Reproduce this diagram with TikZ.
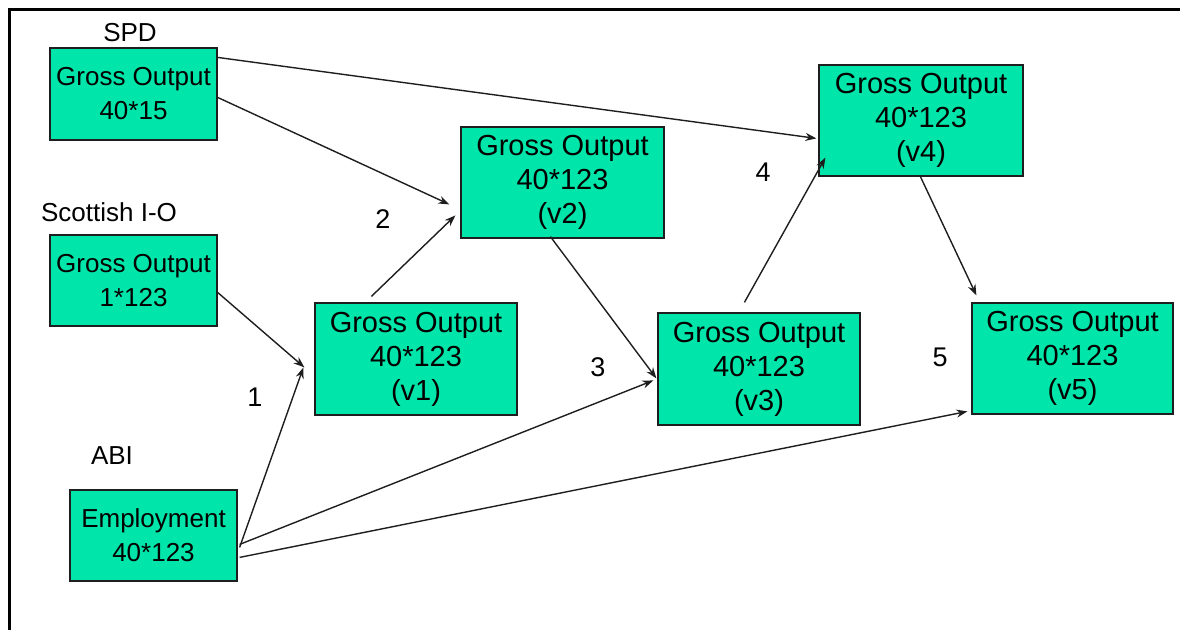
\documentclass[tikz,border=0pt]{standalone}
\usepackage{fontspec}
\setmainfont{Liberation Sans}
\usetikzlibrary{arrows.meta}
\definecolor{boxfill}{RGB}{0,229,170}
\definecolor{ink}{RGB}{30,30,30}
\tikzset{
  srcbox/.style={draw=ink, line width=1.2pt, fill=boxfill, inner sep=0pt,
    align=center, font=\fontsize{26}{34}\selectfont},
  outbox/.style={draw=ink, line width=1.2pt, fill=boxfill, inner sep=0pt,
    align=center, font=\fontsize{29}{34}\selectfont},
  heading/.style={inner sep=0pt, font=\fontsize{26}{32}\selectfont},
  steplabel/.style={inner sep=0pt, font=\fontsize{27}{32}\selectfont},
  link/.style={draw=ink, line width=1.4pt, -{Stealth[length=11pt,width=8pt]}},
}
\begin{document}
\begin{tikzpicture}[x=1pt,y=-1pt]
\useasboundingbox (0,0) rectangle (1180,630);
% frame edges
\draw[line width=3pt] (9,630) -- (9,9) -- (1180,9);

% source data
\node[heading] (lspd) at (130,33) {SPD};
\node[heading] (lsio) at (109,212) {Scottish I-O};
\node[heading] (labi) at (112,456) {ABI};
\node[srcbox, minimum width=167pt, minimum height=92pt] (spd) at (133.5,94) {Gross Output\\40*15};
\node[srcbox, minimum width=167pt, minimum height=91pt] (sio) at (133.5,280.5) {Gross Output\\1*123};
\node[srcbox, minimum width=167pt, minimum height=91pt] (emp) at (153.5,535.5) {Employment\\40*123};

% estimated vectors
\node[outbox, minimum width=202pt, minimum height=112pt] (v1) at (416,359) {Gross Output\\40*123\\(v1)};
\node[outbox, minimum width=203pt, minimum height=111pt] (v2) at (562.5,182.5) {Gross Output\\40*123\\(v2)};
\node[outbox, minimum width=202pt, minimum height=112pt] (v3) at (759,369) {Gross Output\\40*123\\(v3)};
\node[outbox, minimum width=204pt, minimum height=111pt] (v4) at (921,120.5) {Gross Output\\40*123\\(v4)};
\node[outbox, minimum width=201pt, minimum height=111pt] (v5) at (1072.5,358.5) {Gross Output\\40*123\\(v5)};

% step numbers
\node[steplabel] (n1) at (255,397) {1};
\node[steplabel] (n2) at (383,219) {2};
\node[steplabel] (n3) at (598,367) {3};
\node[steplabel] (n4) at (763,172) {4};
\node[steplabel] (n5) at (940,357) {5};

% connectors
\draw[link] ([yshift=-10pt]spd.north east) -- ([xshift=-2pt,yshift=-74pt]v4.north west);
\draw[link] ([yshift=-50pt]spd.north east) -- ([xshift=-11pt,yshift=-78pt]v2.north west);
\draw[link] ([yshift=-58pt]sio.north east) -- ([xshift=-10pt,yshift=-65pt]v1.north west);
\draw[link] ([xshift=2pt,yshift=-58pt]emp.north east) -- ([xshift=-11pt,yshift=-65pt]v1.north west);
\draw[link] ([xshift=2pt,yshift=-55pt]emp.north east) -- ([xshift=-4pt,yshift=-68pt]v3.north west);
\draw[link] ([xshift=2pt,yshift=-68pt]emp.north east) -- ([xshift=-4pt,yshift=-109pt]v5.north west);
\draw[link] ([xshift=57pt,yshift=6pt]v1.north west) -- ([xshift=-5pt,yshift=-89pt]v2.north west);
\draw[link] ([xshift=90pt,yshift=2pt]v2.south west) -- ([xshift=-1pt,yshift=-66pt]v3.north west);
\draw[link] ([xshift=87pt,yshift=10pt]v3.north west) -- ([xshift=7pt,yshift=19pt]v4.south west);
\draw[link] ([xshift=102pt]v4.south west) -- ([xshift=5pt,yshift=7pt]v5.north west);
\end{tikzpicture}
\end{document}
